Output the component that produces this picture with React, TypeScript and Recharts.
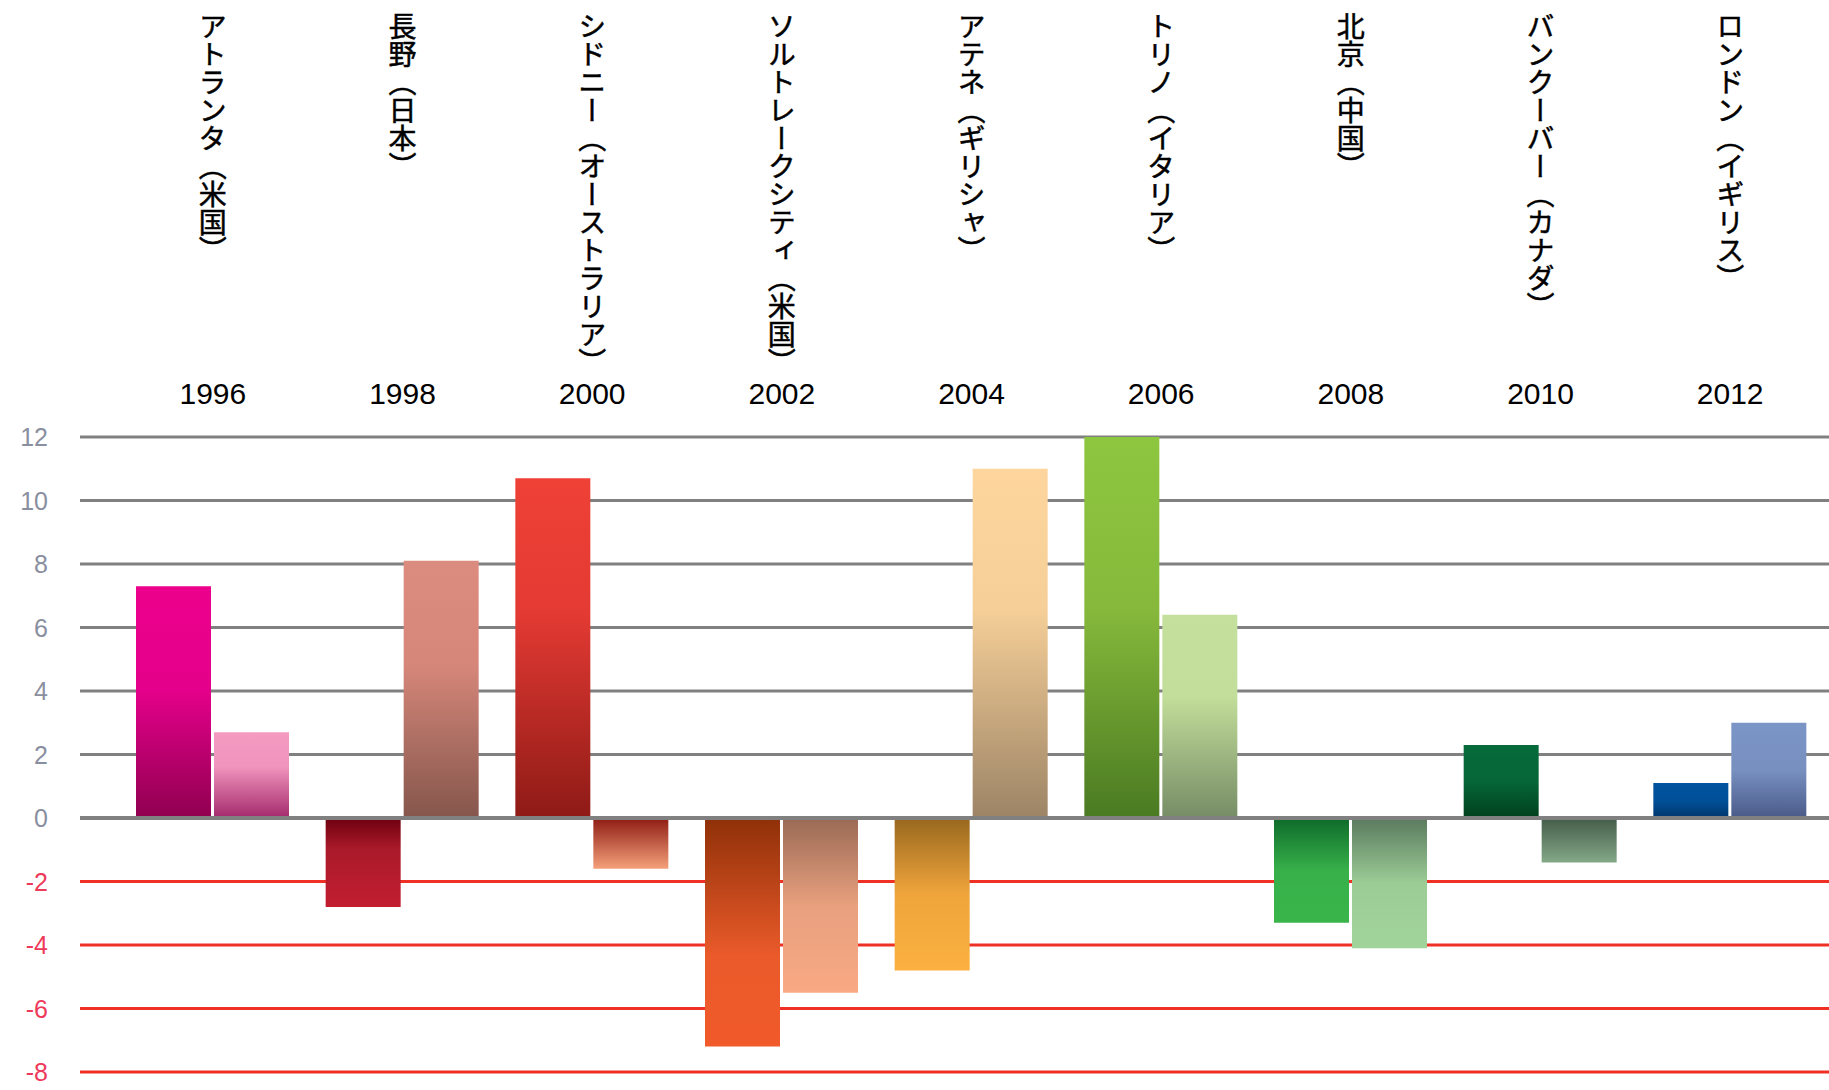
import { BarChart, Bar, XAxis, YAxis, ReferenceLine, Cell } from 'recharts';

const years = ['1996', '1998', '2000', '2002', '2004', '2006', '2008', '2010', '2012'];
const cities = [
  'アトランタ（米国）',
  '長野（日本）',
  'シドニー（オーストラリア）',
  'ソルトレークシティ（米国）',
  'アテネ（ギリシャ）',
  'トリノ（イタリア）',
  '北京（中国）',
  'バンクーバー（カナダ）',
  'ロンドン（イギリス）',
];
const seriesA = [7.3, -2.8, 10.7, -7.2, -4.8, 12.0, -3.3, 2.3, 1.1];
const seriesB = [2.7, 8.1, -1.6, -5.5, 11.0, 6.4, -4.1, -1.4, 3.0];
const yTicks = [-8, -6, -4, -2, 0, 2, 4, 6, 8, 10, 12];

// gradient stops per bar, top -> bottom of the rect
type Stops = [number, string][];
const gradA: Stops[] = [
  [[0, '#ec008c'], [0.45, '#e4008a'], [1, '#900050']],
  [[0, '#6e0010'], [0.35, '#aa1a2a'], [1, '#c21e30']],
  [[0, '#ef4136'], [0.4, '#e33a33'], [1, '#8e1a16']],
  [[0, '#8f3008'], [0.6, '#ea5a2a'], [1, '#f15a2b']],
  [[0, '#98681e'], [0.5, '#f0a53c'], [1, '#fbb040']],
  [[0, '#8dc63f'], [0.45, '#86b93b'], [1, '#4a7a22']],
  [[0, '#0e6b2a'], [0.5, '#37b04a'], [1, '#39b54a']],
  [[0, '#066a3a'], [0.5, '#066638'], [1, '#00401c']],
  [[0, '#00539f'], [0.5, '#005099'], [1, '#00366c']],
];
const gradB: Stops[] = [
  [[0, '#f49ac1'], [0.4, '#f094bd'], [1, '#a32a6c']],
  [[0, '#dc8c7e'], [0.4, '#d6877a'], [1, '#85564c']],
  [[0, '#8e1c14'], [1, '#f5a07a']],
  [[0, '#9a6a55'], [0.5, '#e8a07e'], [1, '#f9a984']],
  [[0, '#fdd59d'], [0.4, '#f6cf98'], [1, '#9c8466']],
  [[0, '#c5e09c'], [0.4, '#c3de9a'], [1, '#768c66']],
  [[0, '#5a7a5e'], [0.5, '#9ccc96'], [1, '#a1d49b']],
  [[0, '#445c48'], [1, '#84a888']],
  [[0, '#7b95c7'], [0.5, '#7790c0'], [1, '#4a5a88']],
];

const data = years.map((year, i) => ({ year, city: cities[i], a: seriesA[i], b: seriesB[i] }));

const GRID_GRAY = '#808080';
const GRID_RED = '#ee3124';

function YTick({ x, y, payload }: any) {
  const v = payload.value;
  return (
    <text x={x} y={y} textAnchor="end" dominantBaseline="central" fontSize={25}
      fontFamily="'Liberation Sans', Arial, sans-serif" fill={v < 0 ? '#ee3a5a' : '#8a8fa0'}>
      {v}
    </text>
  );
}

function XTick({ x, y, payload, index }: any) {
  return (
    <g>
      <text x={x} y={12} fontSize={28} fontFamily="'Noto Sans CJK JP', sans-serif" fill="#000"
        stroke="#000" strokeWidth={0.5} style={{ writingMode: 'vertical-rl' }}>
        {cities[index]}
      </text>
      <text x={x} y={y} textAnchor="middle" dominantBaseline="central" fontSize={30}
        fontFamily="'Liberation Sans', Arial, sans-serif" fill="#000">
        {payload.value}
      </text>
    </g>
  );
}

export default function App() {
  return (
    <div>
      <style>{'body{margin:0}'}</style>
      <BarChart width={1829} height={1090} data={data} margin={{ top: 0, right: 0, bottom: 18, left: 0 }}
        barCategoryGap={18} barGap={3}>
        <defs>
          {gradA.map((stops, i) => (
            <linearGradient key={'a' + i} id={'ga' + i} x1="0" y1="0" x2="0" y2="1">
              {stops.map(([o, c], j) => <stop key={j} offset={o} stopColor={c} />)}
            </linearGradient>
          ))}
          {gradB.map((stops, i) => (
            <linearGradient key={'b' + i} id={'gb' + i} x1="0" y1="0" x2="0" y2="1">
              {stops.map(([o, c], j) => <stop key={j} offset={o} stopColor={c} />)}
            </linearGradient>
          ))}
        </defs>
        <XAxis dataKey="year" orientation="top" height={437} axisLine={false} tickLine={false}
          tickSize={0} tickMargin={44} interval={0} padding={{ left: 38, right: 4 }} tick={<XTick />} />
        <YAxis type="number" domain={[-8, 12]} ticks={yTicks} interval={0} width={80} axisLine={false}
          tickLine={false} tickSize={0} tickMargin={32} tick={<YTick />} />
        {yTicks.filter((t) => t !== 0).map((t) => (
          <ReferenceLine key={t} y={t} stroke={t < 0 ? GRID_RED : GRID_GRAY} strokeWidth={3} zIndex={-100} />
        ))}
        <Bar dataKey="a" isAnimationActive={false}>
          {data.map((_, i) => <Cell key={i} fill={`url(#ga${i})`} />)}
        </Bar>
        <Bar dataKey="b" isAnimationActive={false}>
          {data.map((_, i) => <Cell key={i} fill={`url(#gb${i})`} />)}
        </Bar>
        <ReferenceLine y={0} stroke={GRID_GRAY} strokeWidth={4} zIndex={1000} />
      </BarChart>
    </div>
  );
}
